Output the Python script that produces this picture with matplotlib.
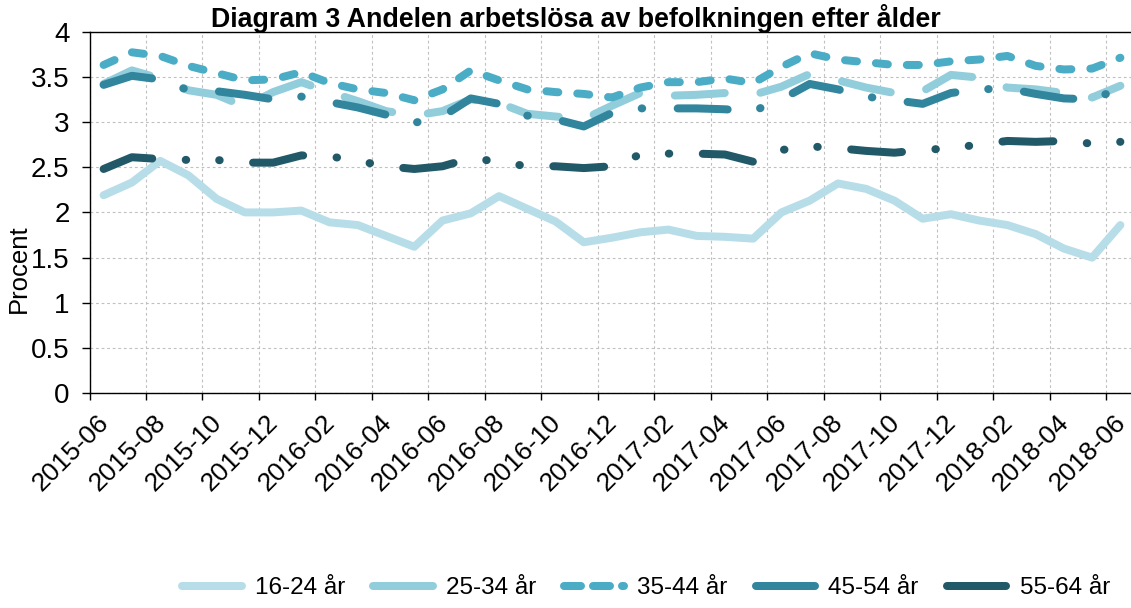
import numpy as np
import pandas as pd
import matplotlib
matplotlib.use('Agg')
import matplotlib.pyplot as plt
import matplotlib.transforms as mtransforms
from matplotlib.lines import Line2D
from matplotlib.ticker import FuncFormatter

# months 2015-06 .. 2018-06
months = pd.period_range('2015-06', '2018-06', freq='M').strftime('%Y-%m').tolist()

# share unemployed (percent) per age group
age_16_24 = [2.19, 2.33, 2.57, 2.41, 2.15, 2.00, 2.00, 2.02, 1.89, 1.86, 1.74, 1.62, 1.91,
             1.99, 2.18, 2.04, 1.90, 1.67, 1.72, 1.78, 1.81, 1.74, 1.73, 1.71, 2.00, 2.13,
             2.32, 2.26, 2.13, 1.93, 1.98, 1.91, 1.86, 1.76, 1.60, 1.50, 1.86]
age_25_34 = [3.42, 3.57, 3.48, 3.35, 3.30, 3.17, 3.33, 3.44, 3.33, 3.23, 3.12, 3.07, 3.12,
             3.25, 3.21, 3.09, 3.06, 3.03, 3.18, 3.32, 3.29, 3.30, 3.32, 3.30, 3.39, 3.53,
             3.46, 3.38, 3.32, 3.34, 3.52, 3.49, 3.38, 3.36, 3.32, 3.27, 3.40]
age_35_44 = [3.63, 3.77, 3.73, 3.62, 3.54, 3.46, 3.47, 3.55, 3.43, 3.36, 3.32, 3.24, 3.36,
             3.57, 3.46, 3.36, 3.33, 3.31, 3.27, 3.38, 3.44, 3.44, 3.48, 3.43, 3.61, 3.76,
             3.69, 3.66, 3.63, 3.63, 3.67, 3.69, 3.73, 3.62, 3.58, 3.59, 3.71]
age_45_54 = [3.41, 3.51, 3.47, 3.35, 3.34, 3.30, 3.25, 3.28, 3.22, 3.16, 3.08, 2.99, 3.06,
             3.26, 3.20, 3.07, 3.03, 2.95, 3.10, 3.15, 3.15, 3.15, 3.14, 3.12, 3.25, 3.42,
             3.36, 3.28, 3.24, 3.20, 3.32, 3.36, 3.37, 3.31, 3.26, 3.25, 3.37]
age_55_64 = [2.48, 2.61, 2.59, 2.58, 2.58, 2.55, 2.55, 2.63, 2.62, 2.57, 2.51, 2.48, 2.51,
             2.60, 2.56, 2.51, 2.51, 2.49, 2.51, 2.64, 2.65, 2.65, 2.64, 2.56, 2.69, 2.73,
             2.71, 2.68, 2.66, 2.69, 2.71, 2.75, 2.79, 2.78, 2.79, 2.76, 2.78]

series_names = ['16-24 år', '25-34 år', '35-44 år', '45-54 år', '55-64 år']
series = [age_16_24, age_25_34, age_35_44, age_45_54, age_55_64]
colors = ['#b7dee8', '#92cddc', '#4bacc6', '#31859c', '#215968']

plt.rcParams['font.family'] = ['Liberation Sans', 'DejaVu Sans']
plt.rcParams['lines.scale_dashes'] = False

PX = 0.72  # points per pixel at dpi 100
LW = 8 * PX
dash_styles = [
    None,
    (50 * PX, 36 * PX),                                              # long dash
    (12 * PX, 19 * PX),                                              # dash
    (50 * PX, 33 * PX, 0.5 * PX, 35.5 * PX),                         # long dash dot
    (51 * PX, 33.5 * PX, 0.5 * PX, 33 * PX, 0.5 * PX, 33.5 * PX),    # long dash dot dot
]

fig = plt.figure(figsize=(11.31, 6.08), dpi=100)
ax = fig.add_axes([89.5 / 1131, (608 - 393.3) / 608, 1045 / 1131, 361.8 / 608])

x = np.arange(len(months))
for vals, c, ds in zip(series, colors, dash_styles):
    line, = ax.plot(x, vals, color=c, lw=LW, solid_capstyle='round', solid_joinstyle='round',
                    dash_capstyle='round', dash_joinstyle='round')
    if ds:
        line.set_dashes(ds)

ax.set_xlim(-0.5, 36.5)
ax.set_ylim(0, 4)

# tick marks + gridlines on category borders, labels on category centres
ax.set_xticks(np.arange(-0.5, 36, 2))
ax.tick_params(axis='x', which='major', length=7 * PX, width=1, color='black', labelbottom=False)
ax.set_xticks(x[::2], months[::2], minor=True)
ax.tick_params(axis='x', which='minor', length=0, pad=12, labelsize=19)
shift = mtransforms.ScaledTranslation(-7 / 100, 0, fig.dpi_scale_trans)
for lbl in ax.get_xticklabels(minor=True):
    lbl.set_rotation(45)
    lbl.set_ha('right')
    lbl.set_va('top')
    lbl.set_rotation_mode('anchor')
    lbl.set_transform(lbl.get_transform() + shift)

ax.set_yticks(np.arange(0, 4.01, 0.5))
ax.yaxis.set_major_formatter(FuncFormatter(lambda v, p: '%g' % v))
ax.tick_params(axis='y', length=8 * PX, width=1, pad=8.6, labelsize=20)

ax.grid(True, which='major', color='#c0c0c0', linestyle=(0, (2, 2)), lw=0.8)
ax.set_axisbelow(True)
for s in ['left', 'bottom', 'top', 'right']:
    ax.spines[s].set_color('black')
    ax.spines[s].set_linewidth(1.0)

fig.text(19 / 1131, 1 - 269 / 608, 'Procent', rotation=90, ha='center', va='center', fontsize=18.5)
fig.text(576 / 1131, 1 - 26.7 / 608, 'Diagram 3 Andelen arbetslösa av befolkningen efter ålder',
         ha='center', va='baseline', fontsize=19.3, fontweight='bold')

handles = []
for i, c in enumerate(colors):
    h = Line2D([0], [0], color=c, lw=LW, solid_capstyle='round', dash_capstyle='round')
    if i == 2:
        h.set_dashes((17 * PX, 12 * PX))
    handles.append(h)
fig.legend(handles, series_names, loc='center', bbox_to_anchor=(646 / 1131, 1 - 588 / 608),
           ncol=5, frameon=False, fontsize=17.5, handlelength=2.45, handletextpad=0.55,
           columnspacing=1.15, borderaxespad=0)

fig.savefig('out.png', dpi=100)
